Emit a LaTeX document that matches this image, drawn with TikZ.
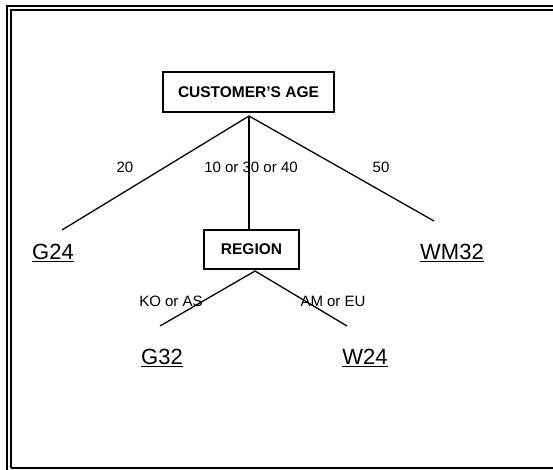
\documentclass[tikz,border=0pt]{standalone}
\usepackage{fontspec}
\setmainfont{Liberation Sans}
\usetikzlibrary{positioning,calc}

\begin{document}
\begin{tikzpicture}[x=1pt,y=-1pt,
  box/.style={draw,line width=1.4pt,inner sep=0pt,
    font=\fontsize{15.5}{18}\selectfont\bfseries},
  lbl/.style={inner sep=0pt,font=\fontsize{15}{18}\selectfont},
  leaf/.style={inner sep=0pt,font=\fontsize{22}{26}\selectfont},
  br/.style={line width=1.3pt}]
\useasboundingbox (0,0) rectangle (553,470);
% frame
\draw[line width=1.8pt] (7,470) -- (7,6) -- (553,6);
\draw[line width=1.8pt] (11,468) -- (11,10) -- (553,10);
\draw[line width=1.8pt] (11,468) -- (553,468);
% age split
\node[box,minimum width=171pt,minimum height=40pt] (age) at (248.5,92){CUSTOMER'S AGE};
\coordinate (ageTop) at (249,116);
\coordinate (g24End) at (62,230);
\coordinate (wm32End) at (434,221);
\node[box,minimum width=95pt,minimum height=39pt] (region) at (251.5,249.5){REGION};
\draw[br] (g24End) -- (ageTop) -- (wm32End);
\draw[br] (ageTop) -- (region.north -| ageTop);
\node[lbl] (l20) at (125,167){20};
\node[lbl] (lmid) at (251,167){10 or 30 or 40};
\node[lbl] (l50) at (381,167){50};
\node[leaf] (G24) at (53,253){\underline{G24}};
\node[leaf] (WM32) at (452,253){\underline{WM32}};
% region split
\coordinate (regTop) at (255,271);
\coordinate (g32End) at (160,326);
\coordinate (w24End) at (347,326);
\draw[br] (g32End) -- (regTop) -- (w24End);
\node[lbl] (lko) at (171,301){KO or AS};
\node[lbl] (lam) at (333,301){AM or EU};
\node[leaf] (G32) at (162,358){\underline{G32}};
\node[leaf] (W24) at (365,358){\underline{W24}};
\end{tikzpicture}
\end{document}
